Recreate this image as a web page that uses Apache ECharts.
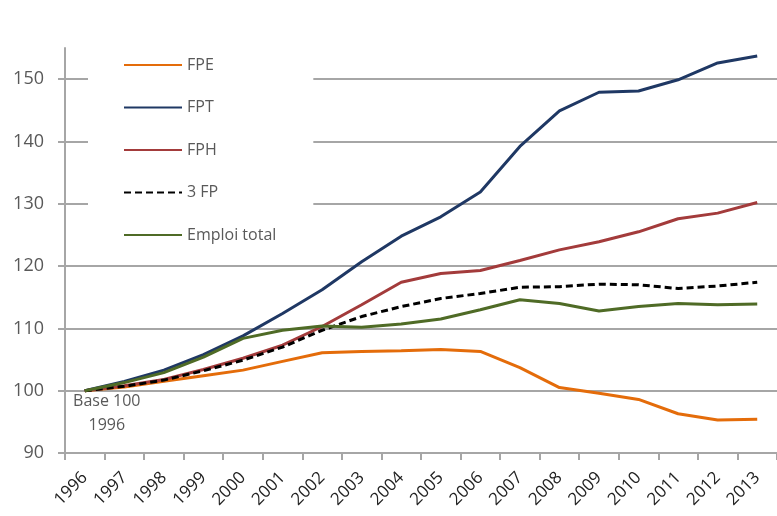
<!DOCTYPE html>
<html>
<head>
<meta charset="utf-8">
<script src="https://cdn.jsdelivr.net/npm/echarts@6/dist/echarts.min.js"></script>
<style>
  html, body { margin: 0; padding: 0; background: #fff; }
  #chart { width: 777px; height: 516px; }
</style>
</head>
<body>
<div id="chart"></div>
<script>
// 数据：base 100 en 1996
const years = ['1996', '1997', '1998', '1999', '2000', '2001', '2002', '2003', '2004',
  '2005', '2006', '2007', '2008', '2009', '2010', '2011', '2012', '2013'];
const fpe = [100, 100.6, 101.5, 102.4, 103.3, 104.7, 106.1, 106.3, 106.4,
  106.6, 106.3, 103.7, 100.5, 99.6, 98.6, 96.3, 95.3, 95.4];
const fpt = [100, 101.5, 103.3, 105.8, 108.8, 112.4, 116.2, 120.7, 124.8,
  127.9, 131.9, 139.2, 144.9, 147.9, 148.1, 149.9, 152.6, 153.7];
const fph = [100, 100.8, 101.8, 103.4, 105.2, 107.3, 110.3, 113.8, 117.4,
  118.8, 119.3, 120.9, 122.6, 123.9, 125.5, 127.6, 128.5, 130.2];
const troisFp = [100, 100.7, 101.7, 103.2, 104.9, 107.0, 109.7, 111.9, 113.5,
  114.8, 115.6, 116.6, 116.7, 117.1, 117.0, 116.4, 116.8, 117.4];
const emploiTotal = [100, 101.3, 102.9, 105.4, 108.4, 109.7, 110.4, 110.2, 110.7,
  111.5, 113.0, 114.6, 114.0, 112.8, 113.5, 114.0, 113.8, 113.9];

const FONT = '"Open Sans", sans-serif';
const GRID_COLOR = '#a6a6a6';

const chart = echarts.init(document.getElementById('chart'));

function line(name, data, color, extra) {
  return Object.assign({
    name, type: 'line', data, symbol: 'none', smooth: false,
    lineStyle: { color, width: 3 }, itemStyle: { color },
  }, extra || {});
}

chart.setOption({
  animation: false,
  backgroundColor: '#fff',
  textStyle: { fontFamily: FONT },
  grid: { left: 65, width: 716, top: 48, bottom: 63 },
  legend: {
    orient: 'vertical', left: 88, top: 49,
    padding: [8, 37, 15, 35],
    backgroundColor: '#fff',
    itemWidth: 58, itemHeight: 14, itemGap: 26.5,
    itemStyle: { opacity: 0 },
    textStyle: { color: '#595959', fontSize: 16, fontFamily: FONT },
    data: ['FPE', 'FPT', 'FPH', '3 FP', 'Emploi total'],
  },
  xAxis: {
    type: 'category', data: years, boundaryGap: true,
    axisLine: { lineStyle: { color: GRID_COLOR, width: 2 } },
    axisTick: { show: true, length: 7, lineStyle: { color: GRID_COLOR, width: 2 } },
    axisLabel: { rotate: 45, interval: 0, margin: 22, color: '#222', fontSize: 17, fontFamily: FONT },
    splitLine: { show: false },
  },
  yAxis: {
    type: 'value', min: 90, max: 155, interval: 10,
    axisLine: { show: true, lineStyle: { color: GRID_COLOR, width: 2 } },
    axisTick: { show: true, length: 7, lineStyle: { color: GRID_COLOR, width: 2 } },
    axisLabel: { margin: 21, color: '#595959', fontSize: 18, fontFamily: FONT, showMaxLabel: false },
    splitLine: { show: true, showMaxLine: false, lineStyle: { color: GRID_COLOR, width: 2 } },
  },
  series: [
    line('FPE', fpe, '#e46c0a', {
      markPoint: {
        symbol: 'circle', symbolSize: 1, itemStyle: { color: 'rgba(0,0,0,0)' },
        data: [{ coord: ['1996', 100] }],
        label: {
          show: true, position: 'inside', offset: [22, 23],
          formatter: 'Base 100\n1996', align: 'center', lineHeight: 24,
          color: '#595959', fontSize: 16, fontFamily: FONT,
        },
      },
    }),
    line('FPT', fpt, '#1f3864'),
    line('FPH', fph, '#a33b3b'),
    line('3 FP', troisFp, '#000000', { lineStyle: { color: '#000', width: 3, type: [7, 4] } }),
    line('Emploi total', emploiTotal, '#4f6b26'),
  ],
});
</script>
</body>
</html>
